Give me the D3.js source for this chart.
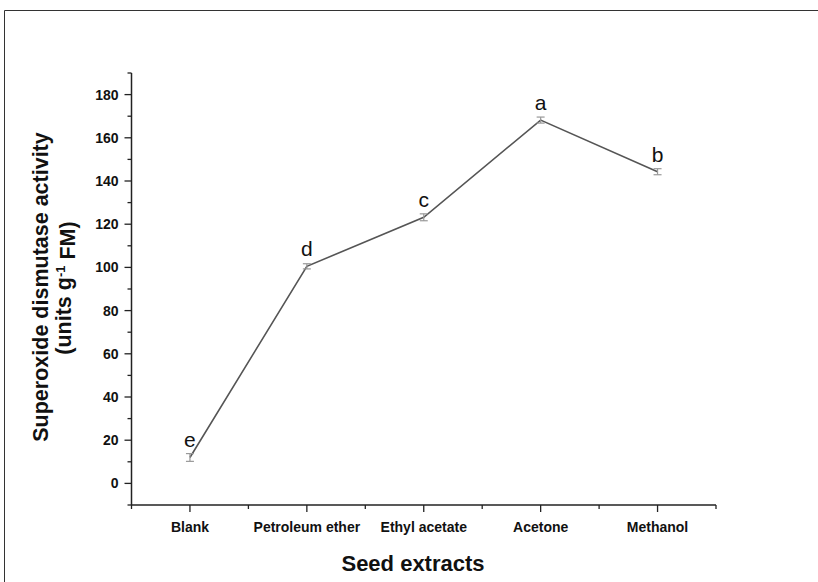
<!DOCTYPE html>
<html><head><meta charset="utf-8">
<script src="https://cdn.jsdelivr.net/npm/d3@7"></script>
<style>body{margin:0;background:#fff;} svg{display:block;font-family:Arial,"Liberation Sans",sans-serif;}</style>
</head><body>
<script>
const categories = ["Blank","Petroleum ether","Ethyl acetate","Acetone","Methanol"];
const values = [12, 100.5, 123.2, 168.2, 144.3];
const errors = [1.8, 1.2, 1.6, 1.4, 1.4];
const letters = ["e","d","c","a","b"];
const yTicks = [0,20,40,60,80,100,120,140,160,180];
const yMinor = [-10,10,30,50,70,90,110,130,150,170,190];

const W=818,H=582;
const svg=d3.select("body").append("svg").attr("width",W).attr("height",H);
// frame
svg.append("path").attr("d","M4.5,582 V10.5 H818").attr("fill","none").attr("stroke","#333").attr("stroke-width",1);

const x=d3.scaleBand().domain(categories).range([131.5,716]).padding(0);
const y=d3.scaleLinear().domain([-10,190]).range([505,73]);
const cx=d=>x(d)+x.bandwidth()/2;

// y axis
const gy=svg.append("g").attr("transform","translate(131.5,0)");
gy.append("line").attr("y1",y(190)).attr("y2",y(-10)).attr("stroke","#222").attr("stroke-width",1.5);
gy.selectAll(".maj").data(yTicks).join("line").attr("x1",-7).attr("x2",0).attr("y1",d=>y(d)).attr("y2",d=>y(d)).attr("stroke","#222").attr("stroke-width",1.3);
gy.selectAll(".min").data(yMinor).join("line").attr("x1",-4).attr("x2",0).attr("y1",d=>y(d)).attr("y2",d=>y(d)).attr("stroke","#222").attr("stroke-width",1.3);
gy.selectAll("text").data(yTicks).join("text").attr("x",-13).attr("y",d=>y(d)).attr("dy","0.36em").attr("text-anchor","end").attr("font-size","14px").attr("font-weight","bold").attr("fill","#111").text(d=>d);

// x axis
const gx=svg.append("g").attr("transform","translate(0,505)");
gx.append("line").attr("x1",131.5).attr("x2",716).attr("stroke","#222").attr("stroke-width",1.5);
gx.selectAll(".maj").data(categories).join("line").attr("x1",d=>cx(d)).attr("x2",d=>cx(d)).attr("y1",0).attr("y2",7).attr("stroke","#222").attr("stroke-width",1.3);
const bounds=categories.map(d=>x(d)).concat([x(categories[categories.length-1])+x.bandwidth()]);
gx.selectAll(".min").data(bounds).join("line").attr("x1",d=>d).attr("x2",d=>d).attr("y1",0).attr("y2",4).attr("stroke","#222").attr("stroke-width",1.3);
gx.selectAll("text").data(categories).join("text").attr("x",d=>cx(d)).attr("y",27).attr("text-anchor","middle").attr("font-size","14px").attr("font-weight","bold").attr("fill","#111").text(d=>d);

// titles
svg.append("text").attr("x",413).attr("y",571).attr("text-anchor","middle").attr("font-size","22px").attr("font-weight","bold").attr("fill","#111").text("Seed extracts");
const yt=svg.append("text").attr("transform","translate(48,287) rotate(-90)").attr("text-anchor","middle").attr("font-size","21.5px").attr("font-weight","bold").attr("fill","#111");
yt.append("tspan").attr("x",0).attr("y",0).text("Superoxide dismutase activity");
const t2=svg.append("text").attr("transform","translate(71,288) rotate(-90)").attr("text-anchor","middle").attr("font-size","21.5px").attr("font-weight","bold").attr("fill","#111");
t2.append("tspan").text("(units g");
t2.append("tspan").attr("dy","-0.45em").attr("font-size","13px").text("-1");
t2.append("tspan").attr("dy","0.45em").text(" FM)");

// line
const data=categories.map((c,i)=>({c,v:values[i],e:errors[i],l:letters[i]}));
svg.append("path").datum(data).attr("d",d3.line().x(d=>cx(d.c)).y(d=>y(d.v))).attr("fill","none").attr("stroke","#555").attr("stroke-width",1.6);
// error bars
const eb=svg.append("g").attr("stroke","#999").attr("stroke-width",1.2);
data.forEach(d=>{
  eb.append("line").attr("x1",cx(d.c)).attr("x2",cx(d.c)).attr("y1",y(d.v-d.e)).attr("y2",y(d.v+d.e));
  eb.append("line").attr("x1",cx(d.c)-4).attr("x2",cx(d.c)+4).attr("y1",y(d.v-d.e)).attr("y2",y(d.v-d.e));
  eb.append("line").attr("x1",cx(d.c)-4).attr("x2",cx(d.c)+4).attr("y1",y(d.v+d.e)).attr("y2",y(d.v+d.e));
});
// letters
svg.selectAll(".lt").data(data).join("text").attr("x",d=>cx(d.c)).attr("y",d=>y(d.v)-10).attr("text-anchor","middle").attr("font-size","21px").attr("fill","#111").text(d=>d.l);
</script>
</body></html>
